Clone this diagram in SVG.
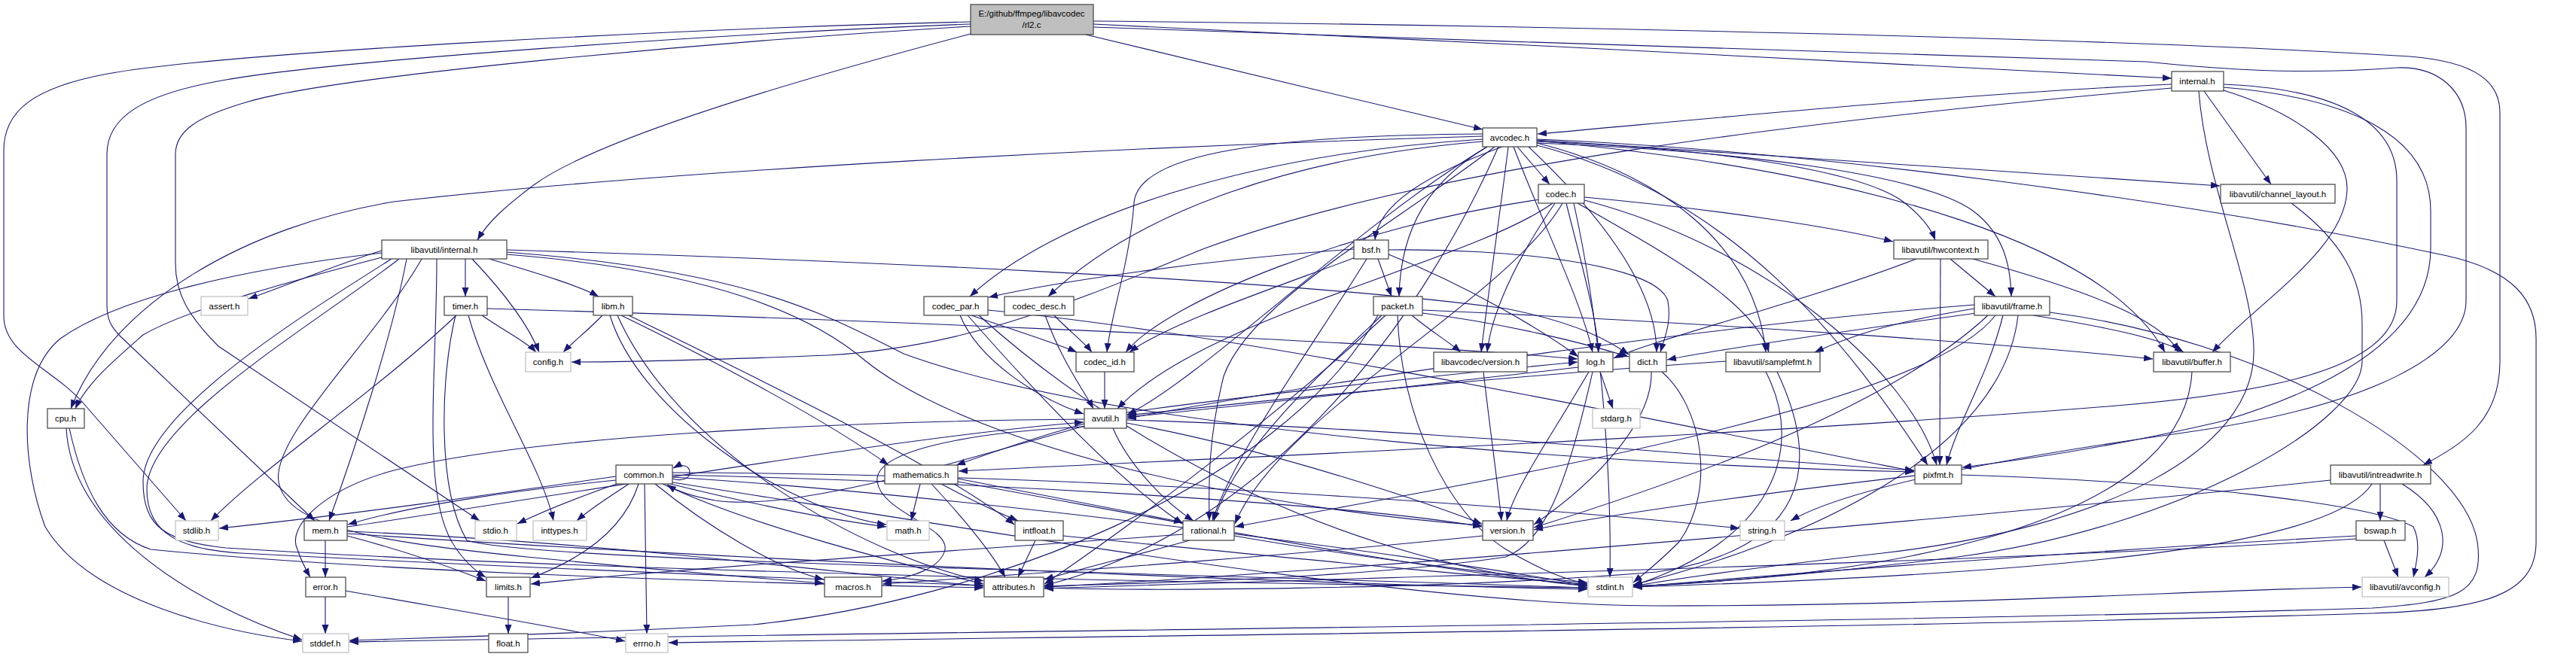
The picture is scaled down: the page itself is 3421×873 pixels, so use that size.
<svg xmlns="http://www.w3.org/2000/svg" width="3421" height="873" viewBox="0 0 3421 873">
<style>
.n rect{fill:#fff;stroke:#404040;stroke-width:1.2}
.s rect{fill:#fff;stroke:#bfbfbf;stroke-width:1.2}
.r rect{fill:#bfbfbf;stroke:#404040;stroke-width:1.2}
text{font-family:"Liberation Sans",Arial,sans-serif;font-size:11.5px;text-anchor:middle;fill:#000}
#edges path{fill:none;stroke:#191970;stroke-width:1.1;marker-end:url(#a)}
</style>
<defs><marker id="a" markerUnits="userSpaceOnUse" markerWidth="13" markerHeight="10" refX="12" refY="4.5" orient="auto"><path d="M0,0 L12,4.5 L0,9 z" fill="#191970"/></marker></defs>
<rect width="3421" height="873" fill="#fff"/>
<g id="edges">
<path d="M1289,29 C900,38 300,70 143,98 C40,117 5,150 5,200 L5,420 C5,470 70,490 110,535 L247,692"/>
<path d="M1289,32 C950,45 450,80 300,106 C190,125 142,155 142,205 L142,405 C142,425 148,435 160,447 L418,692"/>
<path d="M1289,35 C950,55 450,100 330,135 C260,155 233,175 233,205 L233,350 C233,390 250,420 290,460 L637,692"/>
<path d="M1289,45 C1100,95 800,180 710,245 C670,275 648,295 634,319"/>
<path d="M1452,32 C1900,52 2500,85 2884,104"/>
<path d="M1452,28 C2000,33 2800,50 3200,75 C3290,82 3320,110 3320,150 L3320,480 C3320,560 3270,590 3218,618"/>
<path d="M1452,36 C1900,52 2600,75 2850,82 C2950,92 3050,100 3183,90 C3240,88 3275,122 3275,170 L3275,400 C3275,470 3150,540 2900,575 C2650,610 2450,650 2378,692"/>
<path d="M1442,46 C1600,84 1800,132 1969,172"/>
<path d="M2884,112 C2600,125 2300,155 2042,178"/>
<path d="M2927,121 L3016,245"/>
<path d="M2884,117 C2400,160 1900,220 1600,330 C1450,390 1300,460 1100,472 C950,478 830,481 759,481"/>
<path d="M2920,121 C2930,250 2995,380 2993,470 C2990,600 2800,700 2500,735 C2350,752 2230,768 2169,779"/>
<path d="M2953,120 C3050,150 3117,200 3117,250 C3117,330 3000,400 2938,468"/>
<path d="M2953,116 C3120,130 3228,180 3228,280 L3228,330 C3228,420 3150,500 2950,560 C2800,595 2680,612 2606,621"/>
<path d="M2953,112 C3100,118 3183,160 3183,240 L3183,400 C3183,480 3050,520 2800,540 C2300,580 1700,605 1273,626"/>
<path d="M2041,185 C2400,200 2900,265 3250,340 C3340,360 3368,400 3368,450 L3368,720 C3368,790 3300,810 3150,815 C2500,835 1500,845 888,854"/>
<path d="M2041,190 C2200,230 2330,320 2345,468"/>
<path d="M1990,195 C1900,400 1700,700 1387,778"/>
<path d="M1975,195 C1800,300 1600,500 1497,551"/>
<path d="M2041,187 C2500,230 2800,330 2875,468"/>
<path d="M1969,181 C1500,195 900,225 523,268 C330,300 150,400 94,543"/>
<path d="M2041,186 C2500,215 2800,235 2948,247"/>
<path d="M2030,195 C2120,280 2200,380 2200,468"/>
<path d="M2041,190 C2300,200 2550,230 2620,280 C2660,310 2670,350 2671,394"/>
<path d="M2041,188 C2300,198 2480,230 2530,270 C2555,290 2565,305 2570,319"/>
<path d="M2010,195 C2050,300 2100,400 2115,468"/>
<path d="M2041,193 C2300,260 2450,450 2560,618"/>
<path d="M1985,195 C1850,300 1660,400 1625,500 C1605,580 1605,640 1606,692"/>
<path d="M1995,195 C1900,230 1830,270 1826,319"/>
<path d="M2015,195 L2058,245"/>
<path d="M1969,188 C1700,210 1500,290 1392,394"/>
<path d="M1969,185 C1650,205 1400,290 1288,394"/>
<path d="M1969,178 C1650,180 1510,210 1506,270 C1500,350 1475,420 1470,468"/>
<path d="M1975,195 C1900,240 1860,300 1858,394"/>
<path d="M2003,195 C1990,300 1975,400 1967,468"/>
<path d="M2104,262 C2300,280 2450,305 2514,321"/>
<path d="M2104,266 C2350,330 2540,500 2572,618"/>
<path d="M2095,270 C2200,330 2330,400 2349,468"/>
<path d="M2080,270 C2100,350 2120,420 2123,468"/>
<path d="M2062,270 C1950,350 1600,420 1484,543"/>
<path d="M2045,265 C1800,300 1550,400 1495,468"/>
<path d="M2075,270 C2000,400 1700,550 1640,696"/>
<path d="M2090,270 C2130,450 2140,650 2138,767"/>
<path d="M2065,270 C2010,350 1980,420 1975,468"/>
<path d="M1830,344 L1848,394"/>
<path d="M1798,331 C1600,345 1400,375 1313,395"/>
<path d="M1800,342 C1700,380 1550,430 1500,468"/>
<path d="M1815,344 C1750,450 1640,600 1610,692"/>
<path d="M1844,332 C2000,330 2200,350 2215,400 C2220,430 2210,450 2205,468"/>
<path d="M1844,338 C1950,380 2050,440 2096,474"/>
<path d="M1889,412 C2300,430 2700,460 2859,477"/>
<path d="M1889,416 C2000,430 2100,455 2163,474"/>
<path d="M1875,419 C1900,440 1925,455 1940,468"/>
<path d="M1835,419 C1750,500 1640,600 1612,692"/>
<path d="M1840,419 C1700,550 1500,700 1387,776"/>
<path d="M1856,419 C1860,550 1920,680 2000,730 C2050,760 2080,770 2108,776"/>
<path d="M1830,419 C1700,650 1300,800 1000,830 C700,845 550,848 464,851"/>
<path d="M1290,419 C1350,440 1400,455 1430,468"/>
<path d="M1275,419 C1300,480 1380,530 1439,550"/>
<path d="M1285,419 C1400,550 1500,650 1571,696"/>
<path d="M1312,412 C1700,450 2300,580 2542,626"/>
<path d="M1300,419 C1500,600 1800,750 2108,779"/>
<path d="M1400,419 C1420,440 1440,455 1450,468"/>
<path d="M1388,419 C1410,480 1440,520 1452,543"/>
<path d="M1467,494 L1467,543"/>
<path d="M1970,494 C1980,580 1990,650 1994,692"/>
<path d="M2590,344 L2650,394"/>
<path d="M2620,344 C2750,380 2870,420 2893,468"/>
<path d="M2545,344 C2400,400 2200,450 2143,476"/>
<path d="M2577,344 L2576,618"/>
<path d="M2700,419 C2800,435 2870,450 2900,468"/>
<path d="M2622,410 C2500,430 2450,450 2410,468"/>
<path d="M2625,416 C2450,440 2280,465 2214,478"/>
<path d="M2622,405 C2300,430 1800,500 1497,556"/>
<path d="M2660,419 C2640,500 2600,560 2585,618"/>
<path d="M2650,419 C2550,550 1900,650 1640,700"/>
<path d="M2640,419 C2500,550 2200,650 2037,701"/>
<path d="M2680,419 C2660,600 2400,720 2169,777"/>
<path d="M2722,415 C3000,450 3270,600 3290,720 C3300,790 3260,800 3150,808 C2500,828 1000,842 464,853"/>
<path d="M2125,494 L2142,543"/>
<path d="M2096,488 C1900,510 1650,540 1497,554"/>
<path d="M2110,494 C2060,580 2010,650 2001,692"/>
<path d="M2115,494 C2080,650 2050,720 2000,740 C1800,770 1500,775 1387,779"/>
<path d="M2193,494 C2195,560 2120,640 2037,697"/>
<path d="M2207,494 C2260,540 2280,650 2230,720 C2200,750 2180,765 2169,774"/>
<path d="M2292,480 C2000,500 1700,530 1497,552"/>
<path d="M2345,494 C2400,600 2350,720 2169,778"/>
<path d="M2360,494 C2420,620 2400,730 2200,760 C1900,785 1500,785 1387,781"/>
<path d="M2911,494 C2900,700 2500,765 2169,779"/>
<path d="M3043,270 C3110,320 3137,370 3137,430 L3137,480 C3137,560 2900,700 2600,740 C2400,765 2250,775 2169,779"/>
<path d="M2605,631 C2900,640 3150,670 3205,700 C3215,720 3210,745 3205,767"/>
<path d="M2543,632 C2300,660 2100,690 2037,704"/>
<path d="M3161,643 L3161,692"/>
<path d="M3190,643 C3250,680 3260,730 3220,767"/>
<path d="M3095,638 C2700,680 2000,740 1700,760 C1500,775 1420,778 1387,780"/>
<path d="M3150,643 C3100,720 2800,760 2169,780"/>
<path d="M3166,718 L3185,767"/>
<path d="M3129,712 C2800,730 2400,760 2169,780"/>
<path d="M3129,716 C2700,745 1900,765 1387,782"/>
<path d="M893,636 C905,640 916,636 916,628 C916,618 905,616 894,622"/>
<path d="M856,643 L859,842"/>
<path d="M835,643 C810,660 785,675 766,692"/>
<path d="M822,642 C770,660 720,680 687,696"/>
<path d="M848,643 C830,700 780,740 705,768"/>
<path d="M818,633 C700,650 500,680 291,702"/>
<path d="M818,638 C700,650 550,670 462,697"/>
<path d="M890,643 C1000,670 1100,690 1177,700"/>
<path d="M870,643 C940,700 1030,755 1094,770"/>
<path d="M880,643 C1000,700 1200,750 1306,776"/>
<path d="M893,631 C1300,640 1800,670 1968,700"/>
<path d="M893,634 C1300,660 1900,740 2108,778"/>
<path d="M893,628 C1500,630 2100,680 2310,702"/>
<path d="M893,641 C1400,720 1900,805 2200,805 C2600,805 2900,785 3136,780"/>
<path d="M432,718 L432,767"/>
<path d="M461,712 C530,730 590,750 645,772"/>
<path d="M461,706 C800,720 1100,760 1306,779"/>
<path d="M461,709 C1000,745 1700,775 2108,783"/>
<path d="M461,700 C800,650 1200,580 1439,561"/>
<path d="M432,793 L432,842"/>
<path d="M459,785 C600,810 750,835 830,852"/>
<path d="M675,793 L675,842"/>
<path d="M1969,712 C1700,740 1400,760 1172,776"/>
<path d="M1580,718 C1500,740 1420,760 1387,770"/>
<path d="M1571,710 C1300,730 900,755 705,776"/>
<path d="M1639,712 C1800,740 2000,765 2108,774"/>
<path d="M1222,643 L1210,692"/>
<path d="M1250,643 C1300,670 1335,685 1352,692"/>
<path d="M1237,643 C1290,700 1320,740 1335,767"/>
<path d="M1272,636 C1400,660 1500,680 1571,694"/>
<path d="M1272,640 C1600,700 1900,760 2108,778"/>
<path d="M1375,718 L1352,767"/>
<path d="M1412,712 C1700,740 1950,765 2108,776"/>
<path d="M1440,563 C1380,580 1320,600 1270,618"/>
<path d="M1478,569 C1500,620 1550,670 1585,692"/>
<path d="M1496,548 C1700,520 1950,495 2095,481"/>
<path d="M1496,562 C1700,600 1900,670 1968,696"/>
<path d="M1496,558 C1900,570 2300,610 2542,625"/>
<path d="M1440,557 C1100,560 700,580 523,625 C430,650 380,700 395,730 C400,745 405,755 412,767"/>
<path d="M1440,566 C1250,620 1050,680 950,665 C910,658 895,650 886,644"/>
<path d="M1440,567 C1280,575 1160,600 1165,640 C1170,680 1260,700 1255,730 C1250,755 1210,768 1172,772"/>
<path d="M800,419 C780,440 760,455 748,468"/>
<path d="M810,419 C850,550 1050,680 1177,697"/>
<path d="M825,419 C950,480 1100,560 1180,618"/>
<path d="M835,419 C1000,500 1250,620 1347,697"/>
<path d="M820,419 C900,600 1150,740 1306,772"/>
<path d="M640,419 C670,440 700,455 712,468"/>
<path d="M606,419 C500,520 350,620 280,692"/>
<path d="M622,419 C650,520 720,620 735,692"/>
<path d="M605,419 C585,500 580,650 620,718 C700,745 1500,760 2108,781"/>
<path d="M647,410 C1000,420 1800,450 2095,477"/>
<path d="M88,569 C95,700 250,800 401,850"/>
<path d="M92,569 C110,650 140,710 200,730 C500,760 1000,775 1306,781"/>
<path d="M507,333 C450,350 380,380 330,397"/>
<path d="M618,344 L618,394"/>
<path d="M650,344 C720,365 770,380 795,394"/>
<path d="M627,344 C680,400 705,440 716,468"/>
<path d="M507,342 C400,370 250,410 190,445 C150,480 115,510 100,543"/>
<path d="M507,336 C300,360 150,400 80,450 C20,500 30,620 60,700 C120,800 300,840 401,852"/>
<path d="M540,344 C520,450 470,600 437,692"/>
<path d="M580,344 C580,500 560,650 600,720 C615,745 630,758 645,767"/>
<path d="M520,344 C400,420 190,550 190,640 C190,700 220,720 300,728 C800,760 1600,775 2108,781"/>
<path d="M530,344 C420,430 195,560 195,650 C195,710 240,730 320,735 C800,760 1100,770 1306,778"/>
<path d="M560,344 C500,450 360,580 370,640 C380,700 500,720 700,740 C900,760 1030,770 1094,775"/>
<path d="M673,332 C1100,345 1700,370 2000,410 C2100,430 2140,455 2163,471"/>
<path d="M673,335 C1000,360 1100,420 1200,470 C1500,580 2200,620 2542,627"/>
<path d="M673,338 C950,360 1080,420 1150,480 C1300,600 1700,680 1968,698"/>
</g>
<g id="n_rl2" class="r"><rect x="1289" y="6" width="163" height="40"/><text x="1370" y="22">E:/github/ffmpeg/libavcodec</text><text x="1370" y="37">/rl2.c</text></g>
<g id="n_internal" class="n"><rect x="2884" y="95" width="69" height="26"/><text x="2918" y="112">internal.h</text></g>
<g id="n_avcodec" class="n"><rect x="1969" y="170" width="72" height="25"/><text x="2005" y="187">avcodec.h</text></g>
<g id="n_luint" class="n"><rect x="507" y="319" width="166" height="25"/><text x="590" y="336">libavutil/internal.h</text></g>
<g id="n_codec" class="n"><rect x="2043" y="245" width="61" height="25"/><text x="2073" y="262">codec.h</text></g>
<g id="n_chl" class="n"><rect x="2949" y="245" width="152" height="25"/><text x="3025" y="262">libavutil/channel_layout.h</text></g>
<g id="n_bsf" class="n"><rect x="1798" y="319" width="46" height="25"/><text x="1821" y="336">bsf.h</text></g>
<g id="n_hw" class="n"><rect x="2515" y="319" width="125" height="25"/><text x="2577" y="336">libavutil/hwcontext.h</text></g>
<g id="n_assert" class="s"><rect x="267" y="394" width="62" height="25"/><text x="298" y="411">assert.h</text></g>
<g id="n_timer" class="n"><rect x="590" y="394" width="57" height="25"/><text x="618" y="411">timer.h</text></g>
<g id="n_libm" class="n"><rect x="788" y="394" width="52" height="25"/><text x="814" y="411">libm.h</text></g>
<g id="n_cpar" class="n"><rect x="1227" y="394" width="85" height="25"/><text x="1269" y="411">codec_par.h</text></g>
<g id="n_cdesc" class="n"><rect x="1334" y="394" width="92" height="25"/><text x="1380" y="411">codec_desc.h</text></g>
<g id="n_packet" class="n"><rect x="1824" y="394" width="65" height="25"/><text x="1856" y="411">packet.h</text></g>
<g id="n_frame" class="n"><rect x="2622" y="394" width="100" height="25"/><text x="2672" y="411">libavutil/frame.h</text></g>
<g id="n_config" class="s"><rect x="698" y="468" width="60" height="26"/><text x="728" y="485">config.h</text></g>
<g id="n_cid" class="n"><rect x="1429" y="468" width="77" height="26"/><text x="1467" y="485">codec_id.h</text></g>
<g id="n_lcver" class="n"><rect x="1904" y="468" width="124" height="26"/><text x="1966" y="485">libavcodec/version.h</text></g>
<g id="n_log" class="n"><rect x="2096" y="468" width="46" height="26"/><text x="2119" y="485">log.h</text></g>
<g id="n_dict" class="n"><rect x="2164" y="468" width="49" height="26"/><text x="2188" y="485">dict.h</text></g>
<g id="n_sfmt" class="n"><rect x="2292" y="468" width="125" height="26"/><text x="2354" y="485">libavutil/samplefmt.h</text></g>
<g id="n_buffer" class="n"><rect x="2860" y="468" width="102" height="26"/><text x="2911" y="485">libavutil/buffer.h</text></g>
<g id="n_cpu" class="n"><rect x="63" y="543" width="49" height="26"/><text x="87" y="560">cpu.h</text></g>
<g id="n_avutil" class="n"><rect x="1440" y="543" width="56" height="26"/><text x="1468" y="560">avutil.h</text></g>
<g id="n_stdarg" class="s"><rect x="2115" y="543" width="63" height="26"/><text x="2146" y="560">stdarg.h</text></g>
<g id="n_common" class="n"><rect x="818" y="618" width="75" height="25"/><text x="855" y="635">common.h</text></g>
<g id="n_mathematics" class="n"><rect x="1175" y="618" width="97" height="25"/><text x="1223" y="635">mathematics.h</text></g>
<g id="n_pixfmt" class="n"><rect x="2543" y="618" width="62" height="25"/><text x="2574" y="635">pixfmt.h</text></g>
<g id="n_irw" class="n"><rect x="3095" y="618" width="133" height="25"/><text x="3161" y="635">libavutil/intreadwrite.h</text></g>
<g id="n_stdlib" class="s"><rect x="233" y="692" width="57" height="26"/><text x="261" y="709">stdlib.h</text></g>
<g id="n_mem" class="n"><rect x="404" y="692" width="57" height="26"/><text x="432" y="709">mem.h</text></g>
<g id="n_stdio" class="s"><rect x="631" y="692" width="55" height="26"/><text x="658" y="709">stdio.h</text></g>
<g id="n_inttypes" class="s"><rect x="708" y="692" width="71" height="26"/><text x="743" y="709">inttypes.h</text></g>
<g id="n_math" class="s"><rect x="1178" y="692" width="56" height="26"/><text x="1206" y="709">math.h</text></g>
<g id="n_intfloat" class="n"><rect x="1348" y="692" width="64" height="26"/><text x="1380" y="709">intfloat.h</text></g>
<g id="n_rational" class="n"><rect x="1571" y="692" width="68" height="26"/><text x="1605" y="709">rational.h</text></g>
<g id="n_version" class="n"><rect x="1969" y="692" width="67" height="26"/><text x="2002" y="709">version.h</text></g>
<g id="n_string" class="s"><rect x="2311" y="692" width="59" height="26"/><text x="2340" y="709">string.h</text></g>
<g id="n_bswap" class="n"><rect x="3129" y="692" width="65" height="26"/><text x="3161" y="709">bswap.h</text></g>
<g id="n_error" class="n"><rect x="406" y="767" width="53" height="26"/><text x="432" y="784">error.h</text></g>
<g id="n_limits" class="n"><rect x="646" y="767" width="58" height="26"/><text x="675" y="784">limits.h</text></g>
<g id="n_macros" class="n"><rect x="1095" y="767" width="76" height="26"/><text x="1133" y="784">macros.h</text></g>
<g id="n_attributes" class="n"><rect x="1307" y="767" width="79" height="26"/><text x="1346" y="784">attributes.h</text></g>
<g id="n_stdint" class="s"><rect x="2109" y="767" width="59" height="26"/><text x="2138" y="784">stdint.h</text></g>
<g id="n_avconfig" class="s"><rect x="3137" y="767" width="115" height="26"/><text x="3194" y="784">libavutil/avconfig.h</text></g>
<g id="n_stddef" class="s"><rect x="402" y="842" width="61" height="25"/><text x="432" y="859">stddef.h</text></g>
<g id="n_float" class="n"><rect x="649" y="842" width="52" height="25"/><text x="675" y="859">float.h</text></g>
<g id="n_errno" class="s"><rect x="831" y="842" width="56" height="25"/><text x="859" y="859">errno.h</text></g>
</svg>
